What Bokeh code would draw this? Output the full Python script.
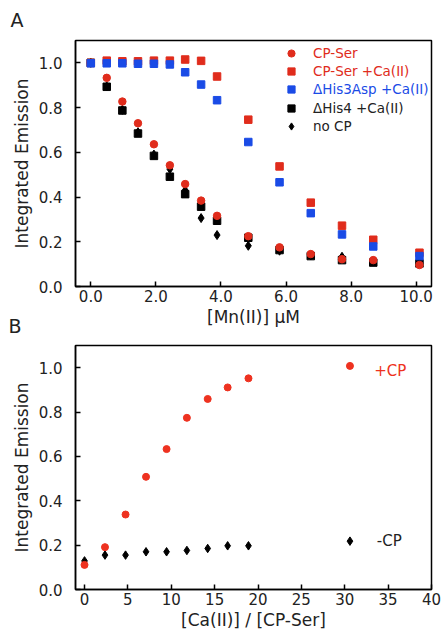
from bokeh.plotting import figure
from bokeh.models import FixedTicker, Legend, LegendItem, Label, Range1d, Title
from bokeh.layouts import column
from bokeh.embed import file_html
from bokeh.resources import INLINE

# ---------------- data: panel A ----------------
mn_conc = [0.0, 0.49, 0.97, 1.45, 1.94, 2.43, 2.90, 3.39, 3.88, 4.84, 5.80, 6.76, 7.72, 8.68, 10.1]
cp_ser = [1.0, 0.933, 0.827, 0.730, 0.636, 0.542, 0.458, 0.384, 0.316, 0.225, 0.175, 0.145, 0.122, 0.118, 0.096]
cp_ser_ca = [1.0, 1.010, 1.007, 1.007, 1.010, 1.010, 1.015, 1.009, 0.939, 0.746, 0.537, 0.375, 0.272, 0.209, 0.151]
his3asp_ca = [0.998, 0.998, 0.998, 0.996, 0.996, 0.993, 0.958, 0.903, 0.833, 0.646, 0.466, 0.328, 0.233, 0.179, 0.136]
his4_ca = [1.0, 0.893, 0.787, 0.684, 0.584, 0.491, 0.413, 0.357, 0.294, 0.218, 0.163, 0.136, 0.118, 0.107, 0.103]
no_cp = [1.0, 0.895, 0.790, 0.690, 0.590, 0.525, 0.430, 0.306, 0.230, 0.182, 0.160, 0.139, 0.133, 0.112, 0.106]

a_xticks = [0, 2, 4, 6, 8, 10]
a_xtick_labels = ["0.0", "2.0", "4.0", "6.0", "8.0", "10.0"]
y_ticks = [0.0, 0.2, 0.4, 0.6, 0.8, 1.0]
y_tick_labels = ["0.0", "0.2", "0.4", "0.6", "0.8", "1.0"]
legend_labels = ["CP-Ser", "CP-Ser +Ca(II)", "\u0394His3Asp +Ca(II)", "\u0394His4 +Ca(II)", "no CP"]

# ---------------- data: panel B ----------------
ca_ratio = [0, 2.36, 4.73, 7.09, 9.46, 11.8, 14.2, 16.5, 18.9, 30.6]
plus_cp = [0.111, 0.191, 0.338, 0.508, 0.633, 0.774, 0.859, 0.911, 0.952, 1.008]
minus_cp = [0.129, 0.155, 0.155, 0.170, 0.170, 0.176, 0.185, 0.197, 0.197, 0.218]
b_xticks = [0, 5, 10, 15, 20, 25, 30, 35, 40]
b_xtick_labels = ["0", "5", "10", "15", "20", "25", "30", "35", "40"]

RED = "#e02c1c"
RED_B = "#ee3220"
BLUE = "#1a4be6"
BLACK = "#000000"
TXT = "#222222"
FONT = "DejaVu Sans"


def style(p, xt, xl):
    p.xaxis.ticker = FixedTicker(ticks=xt)
    p.xaxis.major_label_overrides = {t: l for t, l in zip(xt, xl)}
    p.yaxis.ticker = FixedTicker(ticks=y_ticks)
    p.yaxis.major_label_overrides = {t: l for t, l in zip(y_ticks, y_tick_labels)}
    for ax in (p.xaxis[0], p.yaxis[0]):
        ax.major_tick_in = 5
        ax.major_tick_out = 0
        ax.minor_tick_line_color = None
        ax.axis_line_width = 1.5
        ax.major_tick_line_width = 1.5
        ax.major_label_text_font = FONT
        ax.major_label_text_font_size = "15px"
        ax.major_label_text_color = TXT
        ax.axis_label_text_font = FONT
        ax.axis_label_text_font_size = "17px"
        ax.axis_label_text_font_style = "normal"
        ax.axis_label_text_color = TXT
    p.xaxis.major_label_standoff = 3
    p.xaxis.axis_label_standoff = 2
    p.yaxis.major_label_standoff = 13
    p.yaxis.axis_label_standoff = 4
    p.outline_line_color = "black"
    p.outline_line_width = 1.5
    p.outline_line_alpha = 1.0
    p.xgrid.grid_line_color = None
    p.ygrid.grid_line_color = None
    p.background_fill_color = "white"
    p.border_fill_color = "white"


def panel_title(text, offset, standoff):
    return Title(text=text, align="left", offset=offset, standoff=standoff,
                 vertical_align="top", text_font=FONT, text_font_size="19px",
                 text_font_style="normal", text_color=TXT)


BORDER_L, BORDER_R = 75, 15

# ---------------- panel A ----------------
A_H, A_TOP = 336, 40
A_BOT = A_H - A_TOP - 246
pA = figure(width=446, height=A_H, output_backend="svg", toolbar_location=None,
            x_range=Range1d(-0.47, 10.47), y_range=Range1d(0.0, 1.1),
            min_border_left=BORDER_L, min_border_right=BORDER_R,
            min_border_top=A_TOP, min_border_bottom=A_BOT)
pA.xaxis.axis_label = "[Mn(II)] \u03bcM"
pA.yaxis.axis_label = "Integrated Emission"
style(pA, a_xticks, a_xtick_labels)

r_nocp = pA.scatter(mn_conc, no_cp, marker="diamond", size=9, color=BLACK)
r_his4 = pA.scatter(mn_conc, his4_ca, marker="square", size=7.5, color=BLACK)
r_cpser = pA.scatter(mn_conc, cp_ser, marker="circle", size=7.5, color=RED)
r_cpserca = pA.scatter(mn_conc, cp_ser_ca, marker="square", size=7.5, color=RED)
r_his3 = pA.scatter(mn_conc, his3asp_ca, marker="square", size=7.5, color=BLUE)

leg_renderers = [r_cpser, r_cpserca, r_his3, r_his4, r_nocp]
leg_colors = [RED, RED, BLUE, TXT, TXT]
frame_h_A = 246
for i, (lab, rr, col) in enumerate(zip(legend_labels, leg_renderers, leg_colors)):
    leg = Legend(items=[LegendItem(label=lab, renderers=[rr])],
                 location=(207, frame_h_A - (12.5 + 18.4 * i) - 9),
                 padding=0, margin=0, spacing=0,
                 border_line_alpha=0, background_fill_alpha=0,
                 glyph_width=18, glyph_height=18, label_height=18,
                 label_standoff=13,
                 label_text_font=FONT, label_text_font_size="13.5px",
                 label_text_color=col)
    pA.add_layout(leg)

pA.add_layout(panel_title("A", -65, 16), "above")
pA.add_layout(panel_title("B", -67, -30), "below")

# ---------------- panel B ----------------
B_H = 639 - A_H
B_TOP = 345 - A_H
pB = figure(width=446, height=B_H, output_backend="svg", toolbar_location=None,
            x_range=Range1d(-1.04, 40.0), y_range=Range1d(0.0, 1.1),
            min_border_left=BORDER_L, min_border_right=BORDER_R, min_border_top=B_TOP,
            min_border_bottom=B_H - B_TOP - 244)
pB.xaxis.axis_label = "[Ca(II)] / [CP-Ser]"
pB.yaxis.axis_label = "Integrated Emission"
style(pB, b_xticks, b_xtick_labels)

pB.scatter(ca_ratio, minus_cp, marker="diamond", size=8.5, color=BLACK)
pB.scatter(ca_ratio, plus_cp, marker="circle", size=7, color=RED_B)

pB.add_layout(Label(x=33.4, y=0.985, text="+CP", text_font=FONT, text_font_size="15px",
                    text_color=RED_B, text_baseline="middle", text_align="left"))
pB.add_layout(Label(x=33.7, y=0.218, text="-CP", text_font=FONT, text_font_size="15px",
                    text_color=TXT, text_baseline="middle", text_align="left"))

layout = column(pA, pB, spacing=0)
open("out.html", "w").write(file_html(layout, INLINE))
